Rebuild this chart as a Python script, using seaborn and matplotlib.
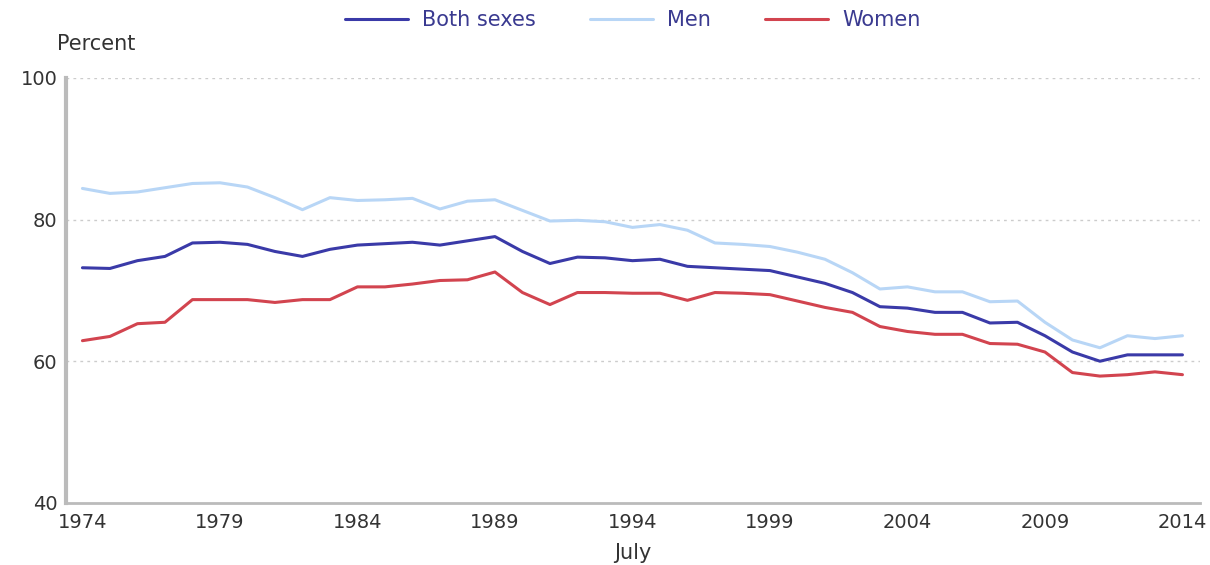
import pandas as pd
import seaborn as sns
import matplotlib.pyplot as plt

# ---------------------------
# Data
# ---------------------------
years = list(range(1974, 2015))

both_sexes = [73.2, 73.1, 74.2, 74.8, 76.7, 76.8, 76.5, 75.5, 74.8, 75.8,
              76.4, 76.6, 76.8, 76.4, 77.0, 77.6, 75.5, 73.8, 74.7, 74.6,
              74.2, 74.4, 73.4, 73.2, 73.0, 72.8, 71.9, 71.0, 69.7, 67.7,
              67.5, 66.9, 66.9, 65.4, 65.5, 63.6, 61.3, 60.0, 60.9, 60.9,
              60.9]

men = [84.4, 83.7, 83.9, 84.5, 85.1, 85.2, 84.6, 83.1, 81.4, 83.1,
       82.7, 82.8, 83.0, 81.5, 82.6, 82.8, 81.3, 79.8, 79.9, 79.7,
       78.9, 79.3, 78.5, 76.7, 76.5, 76.2, 75.4, 74.4, 72.5, 70.2,
       70.5, 69.8, 69.8, 68.4, 68.5, 65.5, 63.0, 61.9, 63.6, 63.2,
       63.6]

women = [62.9, 63.5, 65.3, 65.5, 68.7, 68.7, 68.7, 68.3, 68.7, 68.7,
         70.5, 70.5, 70.9, 71.4, 71.5, 72.6, 69.7, 68.0, 69.7, 69.7,
         69.6, 69.6, 68.6, 69.7, 69.6, 69.4, 68.5, 67.6, 66.9, 64.9,
         64.2, 63.8, 63.8, 62.5, 62.4, 61.3, 58.4, 57.9, 58.1, 58.5,
         58.1]

series_names = ["Both sexes", "Men", "Women"]
colors = ["#3a3aa8", "#b8d6f6", "#d2444f"]
tick_years = list(range(1974, 2015, 5))

df = pd.DataFrame({
    "year": years * 3,
    "value": both_sexes + men + women,
    "series": [series_names[0]] * len(years)
              + [series_names[1]] * len(years)
              + [series_names[2]] * len(years),
})

# ---------------------------
# Figure
# ---------------------------
sns.set_style("white")
plt.rcParams["font.family"] = ["DejaVu Sans"]

fig = plt.figure(figsize=(12.1, 5.65), dpi=100)
ax = fig.add_axes([0.0545, 0.11, 0.9375, 0.752])

sns.lineplot(data=df, x="year", y="value", hue="series",
             palette=dict(zip(series_names, colors)), linewidth=2.2, ax=ax)

ax.set_xlim(1973.4, 2014.65)
ax.set_ylim(40, 100)
ax.set_yticks([40, 60, 80, 100])
ax.set_xticks(tick_years)
ax.tick_params(axis="both", labelsize=14, colors="#333333")
ax.tick_params(axis="x", length=5, width=1, color="#bbbbbb", pad=2)
ax.tick_params(axis="y", length=0, pad=6)

for y in [60, 80, 100]:
    ax.axhline(y, color="#cccccc", linestyle=(0, (2, 3)), linewidth=1, zorder=0)

for side in ["top", "right"]:
    ax.spines[side].set_visible(False)
ax.spines["left"].set_color("#bbbbbb")
ax.spines["left"].set_linewidth(3)
ax.spines["bottom"].set_color("#bbbbbb")
ax.spines["bottom"].set_linewidth(2)

ax.set_xlabel("July", fontsize=15, color="#333333", labelpad=8)
ax.set_ylabel("")
fig.text(0.047, 0.912, "Percent", fontsize=15, color="#333333")

leg = ax.legend(loc="center", bbox_to_anchor=(0.5, 1.136), ncol=3,
                frameon=False, fontsize=15, handlelength=3.0,
                columnspacing=2.6, handletextpad=0.7)
for t in leg.get_texts():
    t.set_color("#3a3a90")

plt.savefig("out.png", dpi=100)
plt.close()
